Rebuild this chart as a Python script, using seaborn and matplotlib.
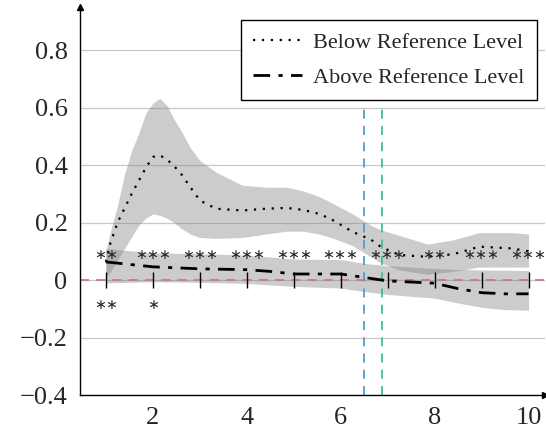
import numpy as np
import pandas as pd
import matplotlib
matplotlib.use("Agg")
import matplotlib.pyplot as plt
import seaborn as sns

sns.set_style("white")
plt.rcParams['font.family'] = ['Liberation Serif', 'DejaVu Sans']

# ── data ────────────────────────────────────────────────
below_x = [1, 1.1, 1.25, 1.4, 1.55, 1.7, 1.85, 2, 2.15, 2.3, 2.45, 2.6, 2.8, 3, 3.35, 3.9,
           4.4, 4.85, 5.2, 5.55, 5.85, 6.25, 6.65, 6.85, 7.25, 7.85, 8.4, 8.95, 9.65, 10]
below_y = [0.063, 0.13, 0.2, 0.25, 0.3, 0.345, 0.39, 0.428, 0.434, 0.42, 0.397, 0.37,
           0.323, 0.277, 0.248, 0.242, 0.248, 0.251, 0.244, 0.23, 0.207, 0.168, 0.14,
           0.116, 0.087, 0.081, 0.09, 0.116, 0.11, 0.1]
below_hi = [0.10, 0.17, 0.26, 0.37, 0.45, 0.51, 0.58, 0.615, 0.632, 0.608, 0.56, 0.52,
            0.46, 0.416, 0.375, 0.33, 0.323, 0.323, 0.31, 0.29, 0.265, 0.23, 0.19, 0.175,
            0.155, 0.125, 0.14, 0.165, 0.165, 0.16]
below_lo = [0.01, 0.03, 0.07, 0.11, 0.15, 0.19, 0.215, 0.23, 0.225, 0.215, 0.2, 0.18,
            0.16, 0.148, 0.145, 0.148, 0.16, 0.17, 0.17, 0.16, 0.145, 0.12, 0.08, 0.06,
            0.035, 0.02, 0.03, 0.045, 0.045, 0.045]

above_x = [1, 2, 3, 4, 4.5, 5, 6, 6.5, 7, 8, 8.5, 9, 9.5, 10]
above_y = [0.063, 0.046, 0.039, 0.036, 0.03, 0.021, 0.021, 0.009, -0.003, -0.011,
           -0.03, -0.044, -0.048, -0.048]
above_hi = [0.11, 0.094, 0.092, 0.087, 0.08, 0.073, 0.071, 0.058, 0.05, 0.04, 0.037,
            0.035, 0.034, 0.033]
above_lo = [-0.01, -0.006, -0.008, -0.012, -0.017, -0.022, -0.028, -0.04, -0.05, -0.063,
            -0.08, -0.095, -0.103, -0.105]

horizons = [1, 2, 3, 4, 5, 6, 7, 8, 9, 10]
stars_top = ["**", "***", "***", "***", "***", "***", "***", "**", "***", "***"]
stars_bot = ["**", "*", "", "", "", "", "", "", "", ""]
star_y_top = 0.087
star_y_bot = -0.087
vline_blue = 6.5
vline_green = 6.88

below_df = pd.DataFrame({"x": below_x, "y": below_y})
above_df = pd.DataFrame({"x": above_x, "y": above_y})

# ── plot ────────────────────────────────────────────────
fig = plt.figure(figsize=(5.46, 4.38), dpi=100)
ax = fig.add_axes([80/546, 43/438, 465/546, 388/438])

for yv in [-0.4, -0.2, 0, 0.2, 0.4, 0.6, 0.8]:
    ax.axhline(yv, color="#c8c8c8", lw=0.9, zorder=0)

ax.fill_between(below_x, below_lo, below_hi, color="#808080", alpha=0.4, lw=0, zorder=1)
ax.fill_between(above_x, above_lo, above_hi, color="#808080", alpha=0.4, lw=0, zorder=1)

ax.axhline(0, color="#d070a0", lw=1.3, ls=(0, (5, 4)), zorder=2)
ax.vlines(vline_blue, -0.4, 0.615, color="#4f9fd0", lw=1.3, ls=(0, (5, 4)), zorder=2)
ax.vlines(vline_green, -0.4, 0.615, color="#3fbf99", lw=1.3, ls=(0, (5, 4)), zorder=2)

ax.vlines(horizons, -0.027, 0.027, color="black", lw=1.0, zorder=3)

sns.lineplot(data=below_df, x="x", y="y", ax=ax, color="black", lw=1.6,
             linestyle=(0, (1, 3)), label="Below Reference Level", zorder=4)
sns.lineplot(data=above_df, x="x", y="y", ax=ax, color="black", lw=2.0,
             linestyle=(0, (6, 3, 1.5, 3)), label="Above Reference Level", zorder=4)

for xv, s in zip(horizons, stars_top):
    if s:
        ax.text(xv, star_y_top, "\u2217" * len(s), ha="center", va="center",
                fontsize=10.3, family="DejaVu Sans", zorder=5)
for xv, s in zip(horizons, stars_bot):
    if s:
        ax.text(xv, star_y_bot, "\u2217" * len(s), ha="center", va="center",
                fontsize=10.3, family="DejaVu Sans", zorder=5)

ax.set_xlim(0.45, 10.35)
ax.set_ylim(-0.4, 0.95)
ax.set_xticks(horizons)
ax.set_xticklabels(["" if v % 2 else str(v) for v in horizons])
ax.set_yticks([-0.4, -0.2, 0, 0.2, 0.4, 0.6, 0.8])
ax.set_yticklabels(["\u22120.4", "\u22120.2", "0", "0.2", "0.4", "0.6", "0.8"])
ax.tick_params(axis="both", labelsize=19, direction="inout", length=8, width=0.8,
               color="#888888")
ax.tick_params(axis="x", pad=5)
ax.tick_params(axis="y", pad=5)
ax.set_xlabel("")
ax.set_ylabel("")

for side in ["top", "right"]:
    ax.spines[side].set_visible(False)
for side in ["left", "bottom"]:
    ax.spines[side].set_color("black")
    ax.spines[side].set_linewidth(1.0)
ax.plot(1, 0, ">k", ms=5, transform=ax.transAxes, clip_on=False)
ax.plot(0, 1, "^k", ms=5, transform=ax.transAxes, clip_on=False)

leg = ax.legend(loc="upper right", bbox_to_anchor=(0.983, 0.966), borderaxespad=0,
                fontsize=16, frameon=True, fancybox=False, framealpha=1,
                edgecolor="black", handlelength=2.2, borderpad=0.55,
                labelspacing=0.65, handletextpad=0.5)
leg.get_frame().set_linewidth(1.0)

fig.savefig("out.png", dpi=100)
